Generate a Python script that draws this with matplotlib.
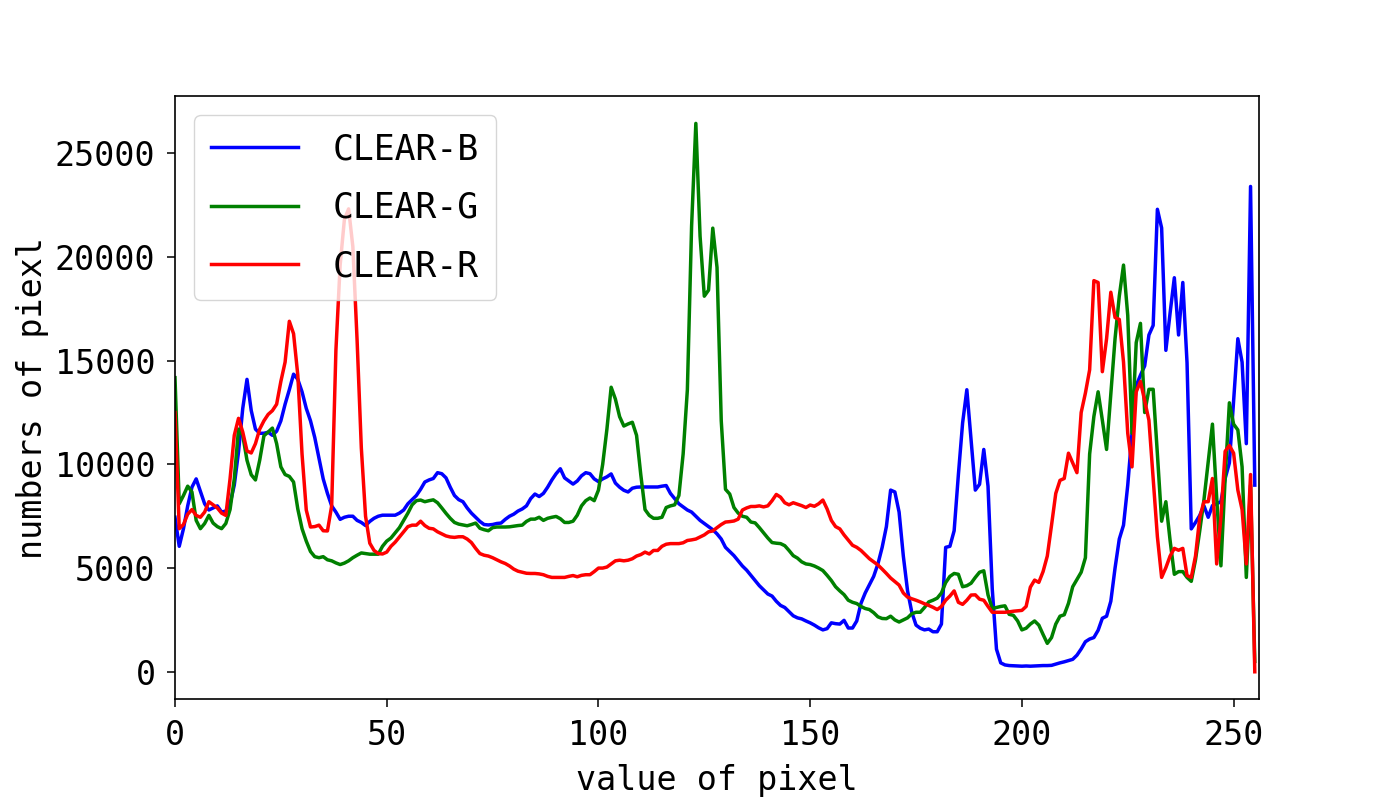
import matplotlib
matplotlib.use('Agg')
import matplotlib.pyplot as plt
import numpy as np

# histogram counts, one value per pixel level 0..255
blue = [7450, 6050, 6900, 8000, 8900, 9300, 8700, 8100, 7800, 7900,
        8000, 7700, 7750, 8100, 9000, 10600, 12700, 14100, 12600, 11700,
        11500, 11500, 11550, 11400, 11600, 12100, 12900, 13600, 14350, 14100,
        13500, 12700, 12100, 11300, 10300, 9300, 8600, 8000, 7700, 7350,
        7450, 7500, 7500, 7300, 7200, 7050, 7250, 7400, 7500, 7550,
        7550, 7550, 7550, 7650, 7800, 8100, 8300, 8500, 8800, 9150,
        9250, 9320, 9600, 9550, 9350, 8900, 8500, 8300, 8200, 7900,
        7650, 7450, 7250, 7100, 7080, 7100, 7150, 7170, 7350, 7500,
        7600, 7750, 7850, 8000, 8350, 8570, 8450, 8600, 8900, 9250,
        9550, 9790, 9350, 9200, 9050, 9200, 9450, 9600, 9550, 9300,
        9170, 9300, 9400, 9540, 9100, 8900, 8750, 8670, 8850, 8900,
        8910, 8910, 8910, 8910, 8910, 8950, 8980, 8600, 8350, 8100,
        7950, 7800, 7700, 7500, 7300, 7150, 7000, 6850, 6650, 6400,
        6000, 5800, 5600, 5350, 5100, 4900, 4650, 4400, 4150, 3950,
        3750, 3650, 3400, 3200, 3100, 2900, 2700, 2600, 2550, 2450,
        2360, 2250, 2120, 2020, 2080, 2360, 2320, 2300, 2480, 2110,
        2110, 2450, 3300, 3800, 4200, 4600, 5200, 6000, 7000, 8760,
        8670, 7700, 5580, 3900, 2870, 2250, 2100, 2020, 2060, 1930,
        1930, 2300, 6000, 6050, 6800, 9500, 12000, 13600, 11200, 8760,
        9040, 10720, 8950, 4000, 1090, 430, 330, 300, 290, 280,
        270, 280, 270, 280, 290, 300, 300, 310, 370, 430,
        480, 540, 600, 800, 1100, 1450, 1580, 1650, 2000, 2580,
        2680, 3400, 5000, 6400, 7070, 9000, 11500, 13800, 14300, 14750,
        16240, 16700, 22300, 21400, 15500, 17300, 19000, 16240, 18770, 14900,
        6890, 7200, 7540, 8000, 7450, 8010, 8100, 8200, 9320, 10070,
        13060, 16060, 14930, 11000, 23400, 9000]

green = [14180, 8100, 8500, 8950, 8670, 7300, 6900, 7150, 7540, 7170,
         7000, 6900, 7150, 7820, 9300, 11700, 11400, 10200, 9500, 9250,
         10200, 11380, 11560, 11750, 11000, 9880, 9510, 9420, 9150, 7850,
         6900, 6300, 5800, 5550, 5500, 5550, 5400, 5350, 5250, 5170,
         5240, 5350, 5500, 5620, 5730, 5700, 5670, 5670, 5670, 6050,
         6300, 6450, 6700, 6950, 7300, 7650, 8050, 8250, 8280, 8200,
         8250, 8290, 8150, 7900, 7640, 7400, 7200, 7120, 7080, 7040,
         7100, 7170, 6920, 6850, 6800, 6950, 6980, 6980, 6980, 6990,
         7020, 7050, 7070, 7250, 7360, 7360, 7450, 7300, 7400, 7450,
         7490, 7380, 7200, 7200, 7260, 7550, 8000, 8250, 8380, 8250,
         8760, 10000, 11700, 13720, 13150, 12300, 11850, 11950, 12030, 11400,
         9500, 7820, 7540, 7400, 7400, 7450, 7920, 8000, 8050, 8500,
         10500, 13600, 21500, 26440, 21000, 18110, 18400, 21390, 19500, 12100,
         8800, 8570, 7920, 7650, 7500, 7450, 7220, 7180, 6950, 6700,
         6450, 6230, 6200, 6180, 6080, 5850, 5600, 5480, 5300, 5200,
         5170, 5100, 5000, 4880, 4650, 4400, 4100, 3900, 3720, 3450,
         3350, 3290, 3150, 3050, 3000, 2850, 2650, 2570, 2560, 2680,
         2500, 2400, 2500, 2600, 2800, 2870, 2870, 3100, 3370, 3450,
         3550, 3800, 4300, 4600, 4740, 4700, 4100, 4150, 4270, 4550,
         4800, 4870, 3710, 3050, 3100, 3150, 3180, 2770, 2720, 2450,
         2020, 2100, 2300, 2450, 2250, 1800, 1370, 1650, 2300, 2680,
         2750, 3300, 4100, 4450, 4800, 5500, 10500, 12310, 13500, 12130,
         10720, 13400, 16060, 18110, 19610, 17180, 11500, 15870, 16800, 12500,
         13620, 13620, 10500, 7260, 8200, 6330, 4700, 4830, 4830, 4550,
         4360, 5400, 6800, 8300, 10100, 11940, 8400, 5110, 9320, 12970,
         11940, 11660, 9880, 4550, 9000, 500]

red = [12500, 6900, 7100, 7600, 7820, 7540, 7450, 7700, 8200, 8050,
       7900, 7650, 7540, 9300, 11400, 12220, 11560, 10650, 10550, 11000,
       11700, 12100, 12410, 12590, 12900, 14000, 14930, 16900, 16300, 14300,
       10500, 7800, 6980, 7000, 7070, 6800, 6790, 8000, 15500, 19610,
       21800, 22320, 20500, 16000, 10800, 7500, 6200, 5850, 5700, 5680,
       5770, 6050, 6250, 6500, 6750, 7000, 7070, 7070, 7260, 7050,
       6920, 6890, 6750, 6650, 6550, 6500, 6480, 6510, 6510, 6400,
       6230, 5950, 5700, 5620, 5580, 5500, 5400, 5300, 5220, 5100,
       4950, 4850, 4800, 4750, 4740, 4740, 4720, 4680, 4600, 4550,
       4550, 4550, 4550, 4600, 4640, 4580, 4650, 4680, 4680, 4830,
       5000, 5000, 5050, 5200, 5350, 5380, 5350, 5380, 5450, 5580,
       5650, 5770, 5680, 5850, 5850, 6050, 6150, 6180, 6180, 6180,
       6220, 6330, 6360, 6400, 6500, 6600, 6750, 6790, 6950, 7100,
       7220, 7240, 7270, 7360, 7800, 7900, 7970, 7970, 8000, 7950,
       8000, 8250, 8550, 8420, 8150, 8050, 8150, 8080, 8010, 7920,
       8040, 7980, 8100, 8280, 7850, 7300, 7000, 6890, 6600, 6350,
       6100, 6000, 5850, 5650, 5450, 5300, 5150, 4950, 4740, 4520,
       4350, 4180, 3800, 3600, 3520, 3450, 3370, 3280, 3200, 3110,
       3000, 3150, 3450, 3650, 3900, 3350, 3250, 3450, 3700, 3710,
       3500, 3450, 3150, 2870, 2870, 2870, 2870, 2890, 2920, 2940,
       2960, 3150, 4080, 4420, 4310, 4830, 5580, 7070, 8600, 9230,
       9320, 10540, 10070, 9600, 12500, 13440, 14560, 18860, 18770, 14470,
       16060, 18300, 17080, 16990, 14930, 11500, 9880, 13500, 14000, 13060,
       12130, 9320, 6510, 4550, 5020, 5580, 5950, 5860, 5950, 4640,
       4550, 5580, 7450, 8200, 8200, 9320, 5200, 7450, 10630, 10910,
       10540, 8760, 7820, 5200, 9510, 0]

labels = ['CLEAR-B', 'CLEAR-G', 'CLEAR-R']
colors = ['b', 'g', 'r']

plt.rcParams['font.family'] = ['DejaVu Sans Mono']
fs = 24

fig = plt.figure(figsize=(14, 8), dpi=100)
ax = fig.add_subplot(111)
fig.subplots_adjust(left=0.125, right=0.8993, top=0.88, bottom=0.126)

x = np.arange(256)
for vals, c, lab in zip([blue, green, red], colors, labels):
    ax.plot(x, vals, color=c, linewidth=2.5, label=lab)

ax.set_xlim(0, 256)
ax.set_xlabel('value of pixel', fontsize=fs, labelpad=9)
ax.set_ylabel('numbers of piexl', fontsize=fs, labelpad=4)
ax.tick_params(labelsize=fs, length=6, width=1.1, pad=8)
for s in ax.spines.values():
    s.set_linewidth(1.2)

# legend in the upper left corner, like the original
ax.legend(loc='upper left', fontsize=25, handlelength=2.5, handletextpad=1.0,
          borderaxespad=0.55, labelspacing=0.7, borderpad=0.5)

fig.savefig('out.png', dpi=100)
